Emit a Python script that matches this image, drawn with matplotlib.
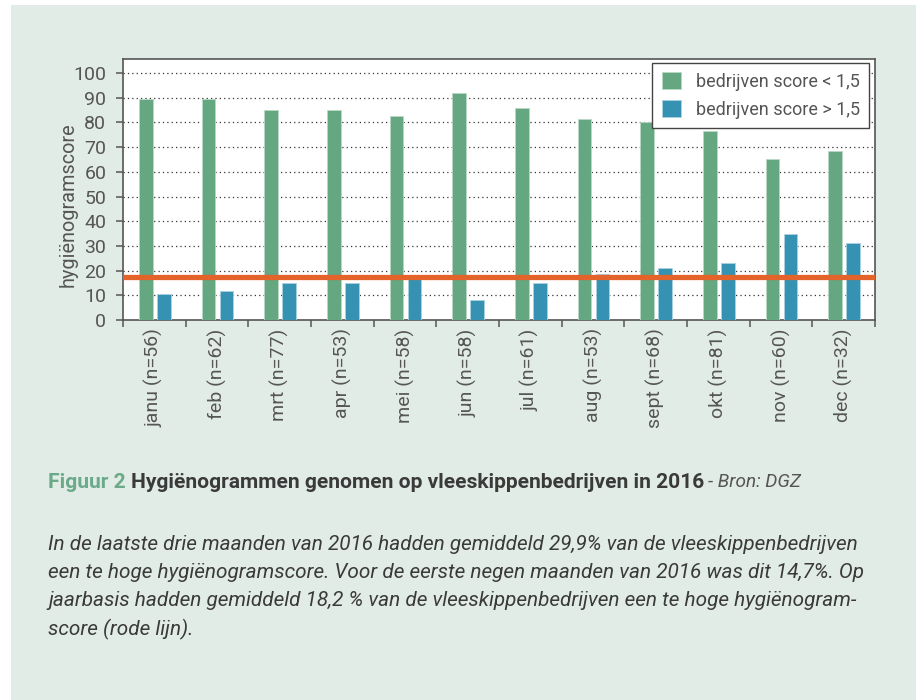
import numpy as np
import matplotlib
matplotlib.use('Agg')
import matplotlib.pyplot as plt
from matplotlib.patches import Rectangle

# data
maanden = ['janu (n=56)', 'feb (n=62)', 'mrt (n=77)', 'apr (n=53)', 'mei (n=58)', 'jun (n=58)',
           'jul (n=61)', 'aug (n=53)', 'sept (n=68)', 'okt (n=81)', 'nov (n=60)', 'dec (n=32)']
score_laag = [89.6, 89.6, 84.9, 84.9, 82.6, 92.0, 86.0, 81.4, 80.3, 76.7, 65.1, 68.6]
score_hoog = [10.4, 11.6, 15.0, 15.0, 16.8, 8.0, 15.0, 18.5, 20.9, 23.0, 34.8, 31.3]
gemiddeld = 17.4
yticks = list(range(0, 101, 10))

W, H = 923, 700
BG = '#e2ece6'
GREEN = '#64a781'
BLUE = '#3592b3'
ORANGE = '#e3632a'
GREY = '#555555'

plt.rcParams['font.family'] = ['Roboto', 'DejaVu Sans']


def px(x, y):
    return x / W, 1 - y / H


fig = plt.figure(figsize=(W / 100, H / 100), dpi=100, facecolor='white')
fig.patches.append(Rectangle(px(11, 700), (916 - 11) / W, (700 - 5) / H,
                             transform=fig.transFigure, facecolor=BG, edgecolor='none', zorder=-10))

ax = fig.add_axes([123 / W, 1 - 320 / H, (875 - 123) / W, (320 - 59) / H])
ax.set_facecolor('white')

x = np.arange(len(maanden))
bw = 0.22
ax.bar(x - 0.135, score_laag, bw, color=GREEN, edgecolor='#b9d9c6', linewidth=0.6,
       label='bedrijven score < 1,5', zorder=3)
ax.bar(x + 0.15, score_hoog, bw, color=BLUE, edgecolor='#a9d2e2', linewidth=0.6,
       label='bedrijven score > 1,5', zorder=3)
ax.axhline(gemiddeld, color=ORANGE, linewidth=3.8, zorder=4)

ax.set_xlim(-0.5, len(maanden) - 0.5)
ax.set_ylim(0, 105.7)
ax.set_yticks(yticks)
ax.set_yticklabels([str(t) for t in yticks])
ax.yaxis.grid(True, linestyle=(0, (1, 2.5)), color='#333333', linewidth=0.9, zorder=1)

ax.set_xticks(np.arange(-0.5, len(maanden), 1.0))
ax.set_xticklabels([])
ax.set_xticks(x, minor=True)
ax.set_xticklabels(maanden, minor=True, rotation=90, fontsize=14, color=GREY)
ax.tick_params(axis='x', which='minor', length=0, pad=6)
ax.tick_params(axis='x', which='major', length=5, width=1.1, color=GREY, direction='out')
ax.tick_params(axis='y', length=5, width=1.1, color=GREY, labelsize=14, labelcolor=GREY, pad=7)

for s in ax.spines.values():
    s.set_color(GREY)
    s.set_linewidth(1.2)

ax.legend(loc='upper right', bbox_to_anchor=(0.992, 0.985), borderaxespad=0, fontsize=13,
          frameon=True, fancybox=False, edgecolor='#444444', framealpha=1, labelcolor=GREY,
          handlelength=1.1, handleheight=1.1, handletextpad=0.8, borderpad=0.5,
          labelspacing=0.5)

fig.text(*px(68, 205), 'hygiënogramscore', rotation=90, ha='center', va='center',
         fontsize=14.3, color=GREY)

# bijschrift: beide delen even groot, samen 48..702 px breed
t1 = fig.text(*px(48, 482), 'Figuur 2', fontsize=13, color='#6aaa88', va='center',
              fontweight='bold')
t2 = fig.text(0, 1 - 482 / H, 'Hygiënogrammen genomen op vleeskippenbedrijven in 2016',
              fontsize=13, color='#3a3a3a', va='center', fontweight='bold')
fig.canvas.draw()
gat = 5
breed = t1.get_window_extent().width + t2.get_window_extent().width
schaal = (702 - 48 - gat) / breed
t1.set_fontsize(13 * schaal)
t2.set_fontsize(13 * schaal)
fig.canvas.draw()
t2.set_x((48 + t1.get_window_extent().width + gat) / W)
fig.canvas.draw()
eind = t2.get_window_extent().x1
t3 = fig.text((eind + 4) / W, 1 - 482 / H, '- Bron: DGZ', fontsize=11, color='#555555',
              va='center', style='italic')
fig.canvas.draw()
t3.set_fontsize(11 * (801 - eind - 4) / t3.get_window_extent().width)

regels = ['In de laatste drie maanden van 2016 hadden gemiddeld 29,9% van de vleeskippenbedrijven',
          'een te hoge hygiënogramscore. Voor de eerste negen maanden van 2016 was dit 14,7%. Op',
          'jaarbasis hadden gemiddeld 18,2 % van de vleeskippenbedrijven een te hoge hygiënogram-',
          'score (rode lijn).']
teksten = [fig.text(*px(48, 545 + 28 * i), r, fontsize=13, color='#3a3a3a', va='center',
                    style='italic') for i, r in enumerate(regels)]
fig.canvas.draw()
grootte = 13 * (855 - 48) / teksten[0].get_window_extent().width
for t in teksten:
    t.set_fontsize(grootte)

fig.savefig('out.png', dpi=100, facecolor='white')
